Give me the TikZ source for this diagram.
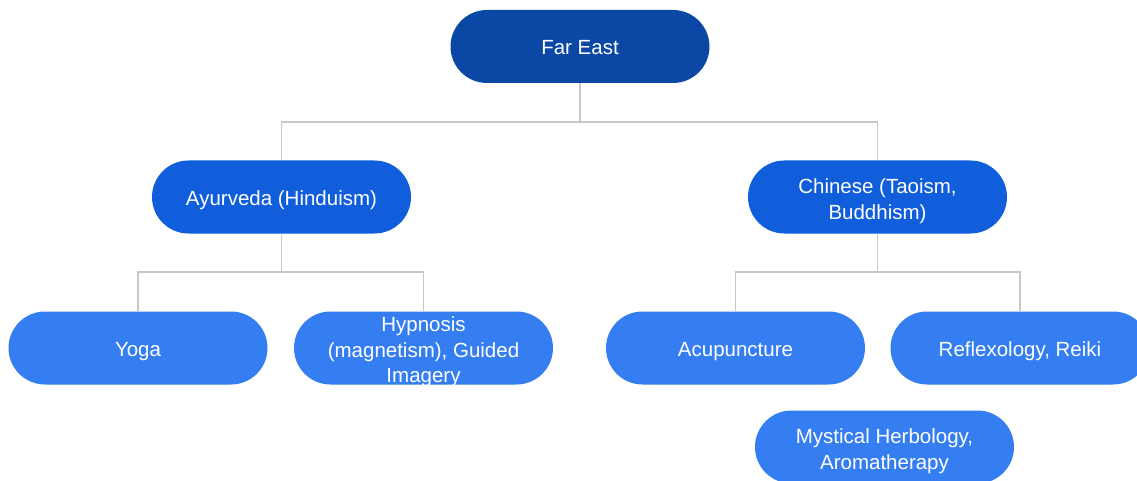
\documentclass[tikz,border=0pt]{standalone}
\usepackage{fontspec}
\setmainfont{Liberation Sans}
\definecolor{lvA}{RGB}{11,71,165}
\definecolor{lvB}{RGB}{16,94,220}
\definecolor{lvC}{RGB}{52,126,242}
\definecolor{conn}{RGB}{200,200,200}
\newcommand{\topstrut}{\rule{0pt}{23pt}}
\begin{document}
\begin{tikzpicture}[x=1pt,y=-1pt,
  pill/.style={rectangle, rounded corners=36.5pt, minimum width=259pt, minimum height=73pt,
    text=white, align=center, inner sep=0pt,
    font=\fontsize{20.5}{25.5}\selectfont},
  oneline/.style={text height=22pt, text depth=5pt},
  overflow/.style={inner ysep=-6pt},
  topbox/.style={pill, fill=lvA},
  midbox/.style={pill, fill=lvB},
  leafbox/.style={pill, fill=lvC},
  link/.style={draw=conn, line width=1.6pt}]
\useasboundingbox (0,0) rectangle (1137,481);
\clip (0,0) rectangle (1137,481);
\node[topbox, oneline] (far) at (580,46.5) {Far East};
\node[midbox, oneline] (ayu) at (281.5,197) {Ayurveda (Hinduism)};
\node[midbox] (chi) at (877.5,197) {\topstrut Chinese (Taoism,\\Buddhism)};
\node[leafbox, oneline] (yoga) at (138,348) {Yoga};
\node[leafbox, overflow] (hyp) at (423.5,348) {\topstrut Hypnosis\\(magnetism), Guided\\Imagery};
\node[leafbox, oneline] (acu) at (735.5,348) {Acupuncture};
\node[leafbox, oneline] (ref) at (1020,348) {Reflexology, Reiki};
\node[leafbox] (mys) at (884.5,447) {\topstrut Mystical Herbology,\\Aromatherapy};
\draw[link] (far.south) -- ++(0,39) -| (ayu.north);
\draw[link] (far.south) ++(0,39) -| (chi.north);
\draw[link] (ayu.south) -- ++(0,38) -| (yoga.north);
\draw[link] (ayu.south) ++(0,38) -| (hyp.north);
\draw[link] (chi.south) -- ++(0,38) -| (acu.north);
\draw[link] (chi.south) ++(0,38) -| (ref.north);
\end{tikzpicture}
\end{document}
